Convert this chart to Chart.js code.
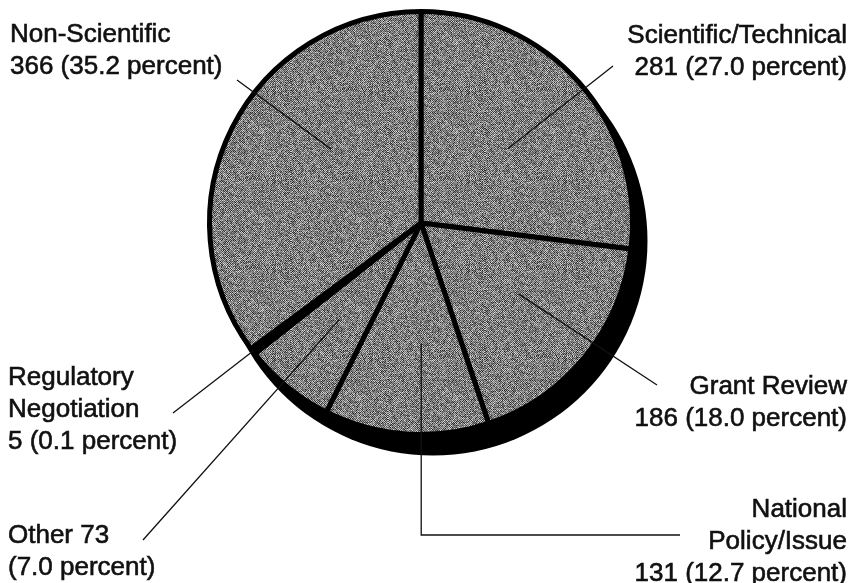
<!DOCTYPE html>
<html>
<head>
<meta charset="utf-8">
<script src="https://cdn.jsdelivr.net/npm/chart.js@4"></script>
<style>
  html, body { margin: 0; background: #fff; }
  #wrap { width: 852px; height: 583px; }
</style>
</head>
<body>
<div id="wrap"><canvas id="pie"></canvas></div>
<script>
// data, clockwise from 12 o'clock
const categories = ['Scientific/Technical', 'Grant Review', 'National Policy/Issue', 'Other', 'Regulatory Negotiation', 'Non-Scientific'];
const counts = [281, 186, 131, 73, 5, 366];
const percents = ['27.0', '18.0', '12.7', '7.0', '0.1', '35.2'];

const labelLines = [
  [categories[0], counts[0] + ' (' + percents[0] + ' percent)'],
  [categories[1], counts[1] + ' (' + percents[1] + ' percent)'],
  ['National', 'Policy/Issue', counts[2] + ' (' + percents[2] + ' percent)'],
  ['Other ' + counts[3], '(' + percents[3] + ' percent)'],
  ['Regulatory', 'Negotiation', counts[4] + ' (' + percents[4] + ' percent)'],
  [categories[5], counts[5] + ' (' + percents[5] + ' percent)']
];

// where each label sits and how its leader runs (f = position inside slice, k = fraction of radius)
const labelLayout = [
  { align: 'right', x: 847, y: 43,  f: 0.51, k: 0.54, to: [613, 66] },
  { align: 'right', x: 847, y: 394, f: 0.45, k: 0.57, to: [657, 385] },
  { align: 'right', x: 847, y: 517, f: 0.41, k: 0.57, elbow: [535, 680] },
  { align: 'left',  x: 8,   y: 543, f: 0.54, k: 0.60, to: [143, 540] },
  { align: 'left',  x: 8,   y: 385, f: 0.5,  k: 1.0,  to: [173, 413] },
  { align: 'left',  x: 10,  y: 42,  f: 0.6,  k: 0.55, to: [237, 80] }
];

// scanned grey screen texture (deterministic hash, purely a fill style)
function makeTexture() {
  const c = document.createElement('canvas');
  c.width = 97; c.height = 89;
  const g = c.getContext('2d');
  const img = g.createImageData(c.width, c.height);
  for (let y = 0; y < c.height; y++) {
    for (let x = 0; x < c.width; x++) {
      let h = (x * 374761393 + y * 668265263) | 0;
      h = Math.imul(h ^ (h >>> 13), 1274126177);
      h = (h ^ (h >>> 16)) >>> 0;
      const n = (h % 1000) / 1000;
      const base = ((x + y) & 1) ? 82 : 168;
      const v = Math.max(35, Math.min(230, base + (n - 0.5) * 110));
      const i = (y * c.width + x) * 4;
      img.data[i] = img.data[i + 1] = img.data[i + 2] = v;
      img.data[i + 3] = 255;
    }
  }
  g.putImageData(img, 0, 0);
  return g.createPattern(c, 'repeat');
}
const grey = makeTexture();

const shadowPlugin = {
  id: 'shadow',
  beforeDatasetsDraw(chart) {
    const arc = chart.getDatasetMeta(0).data[0];
    const ctx = chart.ctx;
    ctx.save();
    ctx.fillStyle = '#000';
    ctx.beginPath();
    ctx.arc(arc.x + 12, arc.y + 18, arc.outerRadius + 3, 0, Math.PI * 2);
    ctx.fill();
    ctx.restore();
  }
};

const labelPlugin = {
  id: 'labels',
  afterDatasetsDraw(chart) {
    const ctx = chart.ctx;
    const arcs = chart.getDatasetMeta(0).data;
    ctx.save();
    ctx.strokeStyle = '#111';
    ctx.fillStyle = '#111';
    ctx.font = '26px "Liberation Sans", Arial, sans-serif';
    ctx.textBaseline = 'alphabetic';
    arcs.forEach((arc, i) => {
      const L = labelLayout[i];
      const a = arc.startAngle + L.f * (arc.endAngle - arc.startAngle);
      const px = arc.x + Math.cos(a) * arc.outerRadius * L.k;
      const py = arc.y + Math.sin(a) * arc.outerRadius * L.k;
      ctx.lineWidth = 1.3;
      ctx.beginPath();
      ctx.moveTo(px, py);
      if (L.elbow) {
        ctx.lineTo(px, L.elbow[0]);
        ctx.lineTo(L.elbow[1], L.elbow[0]);
      } else {
        ctx.lineTo(L.to[0], L.to[1]);
      }
      ctx.stroke();
      ctx.textAlign = L.align;
      ctx.lineWidth = 0.6;
      labelLines[i].forEach((t, j) => {
        ctx.fillText(t, L.x, L.y + j * 32);
        ctx.strokeText(t, L.x, L.y + j * 32);
      });
    });
    ctx.restore();
  }
};

new Chart(document.getElementById('pie'), {
  type: 'pie',
  data: {
    labels: categories,
    datasets: [{
      data: counts,
      backgroundColor: [grey, grey, grey, grey, '#000', grey],
      borderColor: '#000',
      borderWidth: 5
    }]
  },
  options: {
    responsive: true,
    maintainAspectRatio: false,
    animation: false,
    layout: { padding: { left: 207, right: 217, top: 9, bottom: 146 } },
    plugins: {
      legend: { display: false },
      tooltip: { enabled: false }
    }
  },
  plugins: [shadowPlugin, labelPlugin]
});
</script>
</body>
</html>
